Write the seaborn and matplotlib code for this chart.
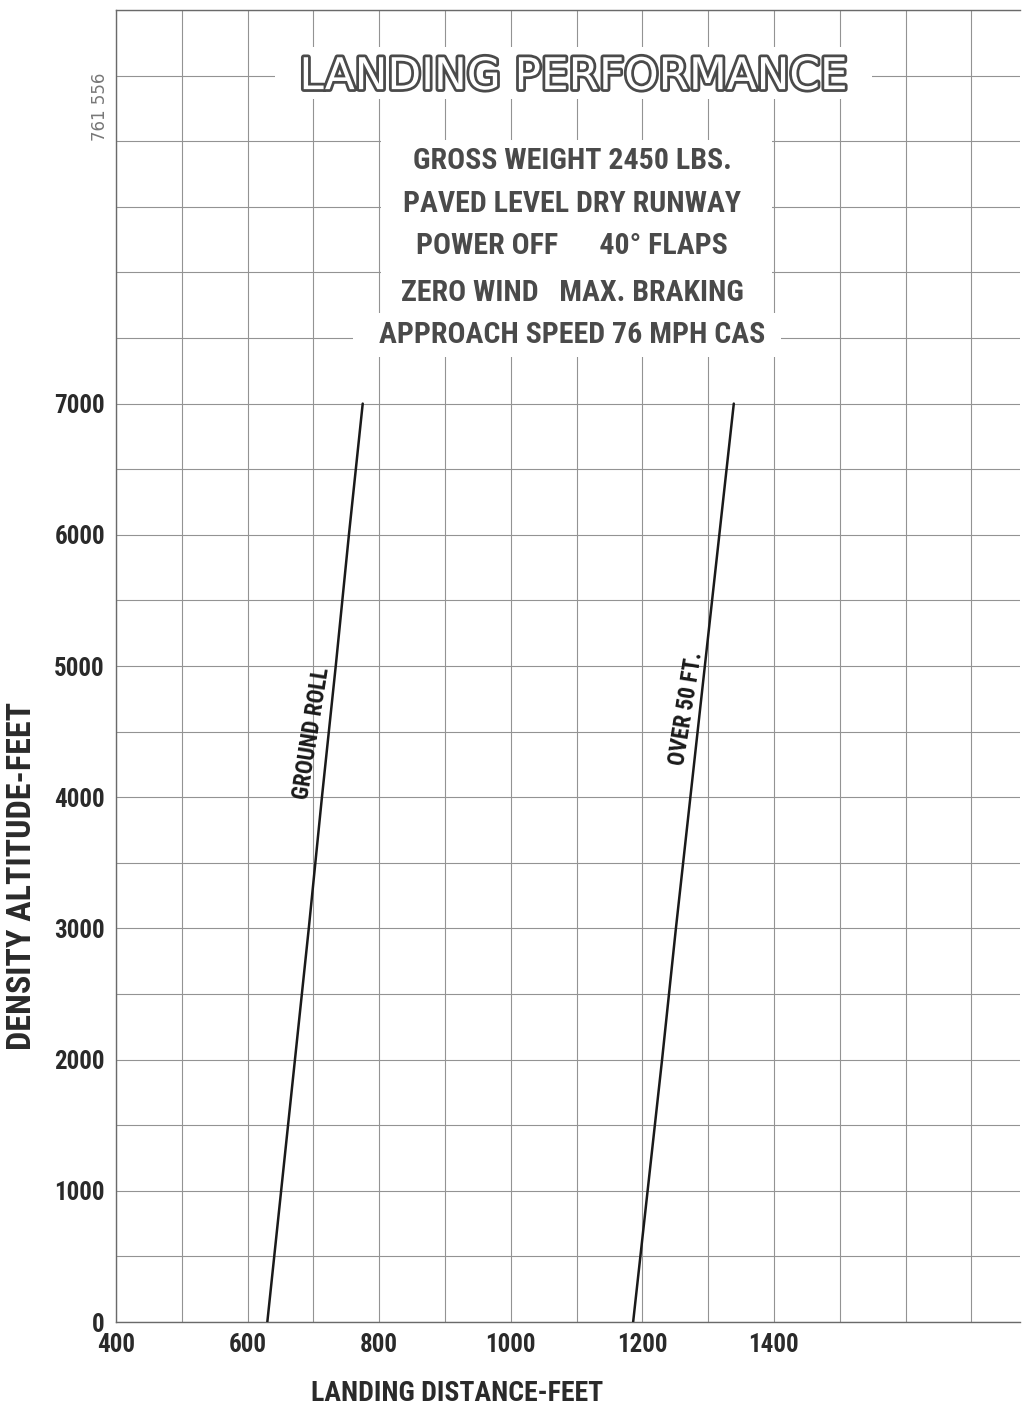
import os
import matplotlib
matplotlib.use("Agg")
import matplotlib.pyplot as plt
import matplotlib.patheffects as pe
from matplotlib import font_manager as fm
from matplotlib.font_manager import FontProperties
from matplotlib.patches import Rectangle
from matplotlib.ticker import FixedLocator, MultipleLocator
import seaborn as sns
import pandas as pd

# ---- data ----
altitude = [0, 1000, 2000, 3000, 4000, 5000, 6000, 7000]
ground_roll = [630, 651, 672, 693, 713, 734, 754, 775]
over_50ft = [1186, 1208, 1230, 1251, 1273, 1295, 1317, 1339]
x_tick_values = [400, 600, 800, 1000, 1200, 1400]
y_tick_values = [0, 1000, 2000, 3000, 4000, 5000, 6000, 7000]
title_text = "LANDING PERFORMANCE"
condition_lines = [
    "GROSS WEIGHT 2450 LBS.",
    "PAVED LEVEL DRY RUNWAY",
    "POWER OFF      40° FLAPS",
    "ZERO WIND   MAX. BRAKING",
    "APPROACH SPEED 76 MPH CAS",
]

sns.set_style("white")
plt.rcParams["font.family"] = ["DejaVu Sans"]


def find_condensed(bold):
    prefs = ["liberationsansnarrow", "robotocondensed", "notosans-condensed",
             "notosanscondensed", "opensans_condensed", "opensanscondensed",
             "opensans-condensed", "dejavusanscondensed", "condensed", "narrow"]
    found = []
    for f in fm.fontManager.ttflist:
        fn = os.path.basename(f.fname).lower()
        if not ("condensed" in fn or "narrow" in fn):
            continue
        if any(k in fn for k in ("italic", "oblique", "semi", "extra", "light",
                                 "thin", "black", "medium", "ultra")):
            continue
        is_bold = "bold" in fn
        if is_bold != bold:
            continue
        for rank, p in enumerate(prefs):
            if p in fn.replace("_", "").replace(" ", "") or p in fn:
                found.append((rank, f.fname))
                break
    if found:
        found.sort()
        return found[0][1]
    return None


bold_path = find_condensed(True)


def fp_bold(size):
    if bold_path:
        return FontProperties(fname=bold_path, size=size)
    return FontProperties(family="DejaVu Sans", weight="bold", size=size * 0.8)


df = pd.DataFrame({
    "alt": altitude * 2,
    "dist": ground_roll + over_50ft,
    "curve": ["GROUND ROLL"] * len(altitude) + ["OVER 50 FT."] * len(altitude),
})

fig = plt.figure(figsize=(10.26, 14.08), dpi=100)
ax = fig.add_axes([116 / 1026, 86 / 1408, 904 / 1026, 1312 / 1408])

sns.lineplot(data=df, x="dist", y="alt", hue="curve", units="curve",
             estimator=None, palette=["#1a1a1a", "#1a1a1a"], linewidth=1.8,
             legend=False, ax=ax, zorder=3, sort=False)

ax.set_xlim(400, 1774)
ax.set_ylim(0, 10000)

ax.xaxis.set_major_locator(FixedLocator(x_tick_values))
ax.xaxis.set_minor_locator(MultipleLocator(100))
ax.yaxis.set_major_locator(FixedLocator(y_tick_values))
ax.yaxis.set_minor_locator(MultipleLocator(500))
ax.set_xticklabels([str(v) for v in x_tick_values])
ax.set_yticklabels([str(v) for v in y_tick_values])
ax.tick_params(axis="both", which="major", length=4, width=0.8, color="#555",
               labelcolor="#2a2a2a", direction="inout")
ax.tick_params(axis="x", which="major", pad=6)
ax.tick_params(axis="y", which="major", pad=6)
ax.tick_params(axis="both", which="minor", length=0)
for lab in ax.get_xticklabels() + ax.get_yticklabels():
    lab.set_fontproperties(fp_bold(18))

ax.set_axisbelow(True)
ax.grid(True, which="both", color="#939393", linewidth=0.8)

for s in ["left", "bottom", "top"]:
    ax.spines[s].set_visible(True)
    ax.spines[s].set_color("#6a6a6a")
    ax.spines[s].set_linewidth(1.0)
ax.spines["right"].set_visible(False)

ax.set_xlabel("LANDING DISTANCE-FEET", fontproperties=fp_bold(20),
              color="#2a2a2a")
ax.xaxis.set_label_coords((457 - 116) / 904, -58 / 1312)
ax.set_ylabel("DENSITY ALTITUDE-FEET", fontproperties=fp_bold(24.5),
              color="#2a2a2a")
ax.yaxis.set_label_coords(-78 / 904, (1322 - 876) / 1312)

# white panels over the grid
ax.add_patch(Rectangle((642, 9321), 907, 396, facecolor="white",
                       edgecolor="none", zorder=1.5))
ax.add_patch(Rectangle((803, 7640), 594, 1370, facecolor="white",
                       edgecolor="none", zorder=1.5))
ax.add_patch(Rectangle((760, 7358), 650, 330, facecolor="white",
                       edgecolor="none", zorder=1.5))

# title with hollow letters
ax.text(1095, 9492, title_text, ha="center", va="center",
        fontproperties=FontProperties(family="DejaVu Sans", size=31.5),
        color="white", zorder=4,
        path_effects=[pe.Stroke(linewidth=4, foreground="#4a4a4a"), pe.Normal()])

cond_y = [8850, 8523, 8203, 7845, 7525]
for txt, yy in zip(condition_lines, cond_y):
    ax.text(1093, yy, txt, ha="center", va="center", fontproperties=fp_bold(21.5),
            color="#4a4a4a", zorder=4)

ax.text(698, 4489, "GROUND ROLL", rotation=81, ha="center", va="center",
        fontproperties=fp_bold(16.5), color="#1a1a1a", zorder=4)
ax.text(1267, 4680, "OVER 50 FT.", rotation=81, ha="center", va="center",
        fontproperties=fp_bold(16.5), color="#1a1a1a", zorder=4)

fig.text(100 / 1026, 1 - 107 / 1408, "761 556", rotation=90, ha="center",
         va="center", fontsize=12, color="#777")

fig.savefig("out.png", dpi=100, facecolor="white")
